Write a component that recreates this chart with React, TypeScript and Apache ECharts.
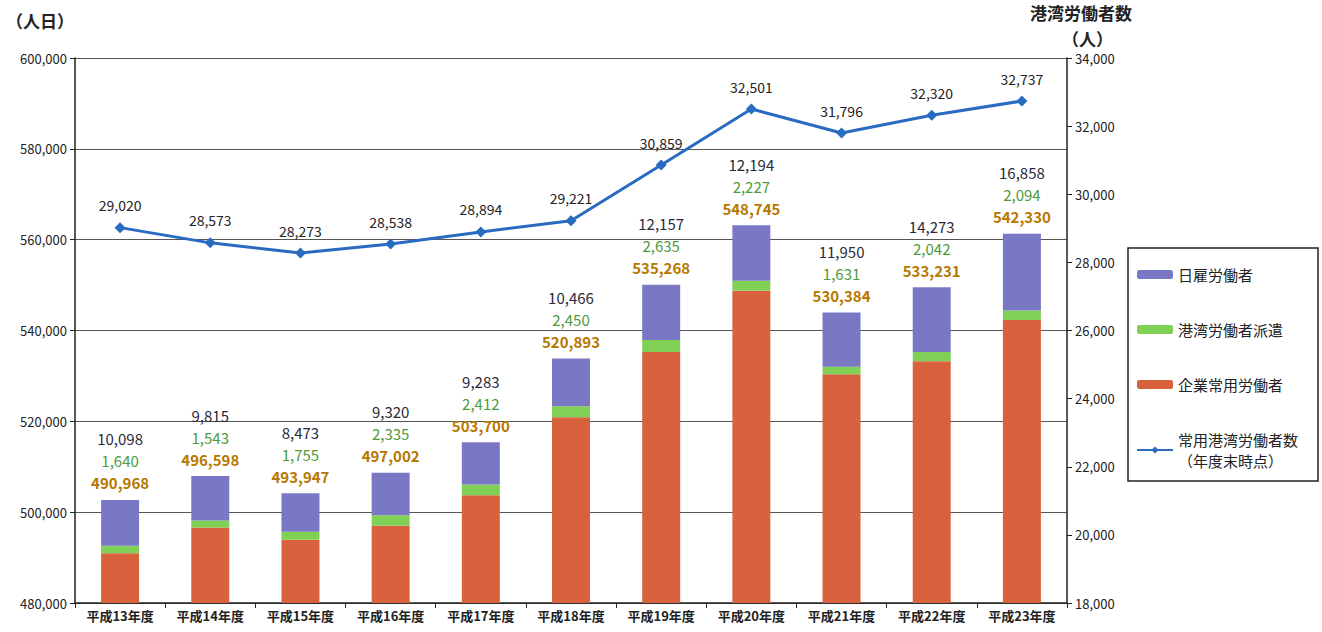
import React, { useEffect, useRef } from "react";
import * as echarts from "echarts";

const categories = ["平成13年度", "平成14年度", "平成15年度", "平成16年度", "平成17年度", "平成18年度", "平成19年度", "平成20年度", "平成21年度", "平成22年度", "平成23年度"];
const kigyo = [490968, 496598, 493947, 497002, 503700, 520893, 535268, 548745, 530384, 533231, 542330];
const haken = [1640, 1543, 1755, 2335, 2412, 2450, 2635, 2227, 1631, 2042, 2094];
const hiyatoi = [10098, 9815, 8473, 9320, 9283, 10466, 12157, 12194, 11950, 14273, 16858];
const joyo = [29020, 28573, 28273, 28538, 28894, 29221, 30859, 32501, 31796, 32320, 32737];

const FONT = "'Noto Sans CJK JP', 'Noto Sans', sans-serif";
const fmt = (v: number) => v.toLocaleString("en-US");

export default function App() {
  const ref = useRef<HTMLDivElement>(null);
  useEffect(() => {
    if (!ref.current) return;
    const chart = echarts.init(ref.current, undefined, { renderer: "svg" });
    chart.setOption({
      animation: false,
      backgroundColor: "#ffffff",
      textStyle: { fontFamily: FONT },
      grid: { left: 75, right: 255, top: 58, bottom: 29 },
      graphic: [
        { type: "text", left: 6, top: 12, style: { text: "（人日）", fontSize: 17, fontWeight: "bold", fill: "#222", fontFamily: FONT } },
        { type: "text", left: 1030, top: 4, style: { text: "港湾労働者数", fontSize: 17, fontWeight: "bold", fill: "#222", fontFamily: FONT } },
        { type: "text", left: 1062, top: 30, style: { text: "（人）", fontSize: 17, fontWeight: "bold", fill: "#222", fontFamily: FONT } },
      ],
      legend: {
        orient: "vertical",
        left: 1128,
        top: 248,
        data: ["日雇労働者", "港湾労働者派遣", "企業常用労働者", "常用港湾労働者数"],
        borderColor: "#222",
        borderWidth: 1.5,
        padding: [16, 20, 10, 8],
        itemGap: 34,
        itemWidth: 36,
        itemHeight: 9,
        textStyle: { fontSize: 15, color: "#222", fontFamily: FONT, lineHeight: 21 },
        formatter: (name: string) => (name === "常用港湾労働者数" ? name + "\n（年度末時点）" : name),
      },
      xAxis: {
        type: "category",
        data: categories,
        axisLine: { lineStyle: { color: "#222", width: 1.5 } },
        axisTick: { show: true, lineStyle: { color: "#222" } },
        axisLabel: { fontSize: 13, color: "#222", fontWeight: "bold", margin: 6, fontFamily: FONT },
      },
      yAxis: [
        {
          type: "value",
          min: 480000,
          max: 600000,
          interval: 20000,
          axisLine: { show: true, lineStyle: { color: "#222", width: 1.5 } },
          axisTick: { show: true, lineStyle: { color: "#222" } },
          axisLabel: { fontSize: 13, color: "#222", formatter: (v: number) => fmt(v), fontFamily: FONT },
          splitLine: { show: true, lineStyle: { color: "#555", width: 1 } },
        },
        {
          type: "value",
          min: 18000,
          max: 34000,
          interval: 2000,
          axisLine: { show: true, lineStyle: { color: "#222", width: 1.5 } },
          axisTick: { show: true, lineStyle: { color: "#222" } },
          axisLabel: { fontSize: 13, color: "#222", formatter: (v: number) => fmt(v), fontFamily: FONT },
          splitLine: { show: false },
        },
      ],
      series: [
        {
          name: "企業常用労働者",
          type: "bar",
          stack: "total",
          data: kigyo,
          barWidth: 38,
          itemStyle: { color: "#d8623e" },
        },
        {
          name: "港湾労働者派遣",
          type: "bar",
          stack: "total",
          data: haken,
          itemStyle: { color: "#80d055" },
        },
        {
          name: "日雇労働者",
          type: "bar",
          stack: "total",
          data: hiyatoi,
          itemStyle: { color: "#7a78c4" },
          label: {
            show: true,
            position: "top",
            distance: 6,
            formatter: (p: any) =>
              `{d|${fmt(hiyatoi[p.dataIndex])}}\n{g|${fmt(haken[p.dataIndex])}}\n{o|${fmt(kigyo[p.dataIndex])}}`,
            rich: {
              d: { fontSize: 15, color: "#2a2a3a", lineHeight: 22, fontFamily: FONT },
              g: { fontSize: 15, color: "#4f9a3a", lineHeight: 22, fontFamily: FONT },
              o: { fontSize: 15, color: "#b77800", fontWeight: "bold", lineHeight: 22, fontFamily: FONT },
            },
          },
        },
        {
          name: "常用港湾労働者数",
          type: "line",
          yAxisIndex: 1,
          data: joyo,
          symbol: "diamond",
          symbolSize: 11,
          z: 5,
          lineStyle: { color: "#2a6bc2", width: 3 },
          itemStyle: { color: "#2a6bc2" },
          label: {
            show: true,
            position: "top",
            distance: 10,
            fontSize: 14,
            color: "#222",
            formatter: (p: any) => fmt(p.value),
            fontFamily: FONT,
          },
        },
      ],
    });
    return () => chart.dispose();
  }, []);
  return <div ref={ref} style={{ position: "fixed", left: 0, top: 0, width: 1322, height: 632 }} />;
}
